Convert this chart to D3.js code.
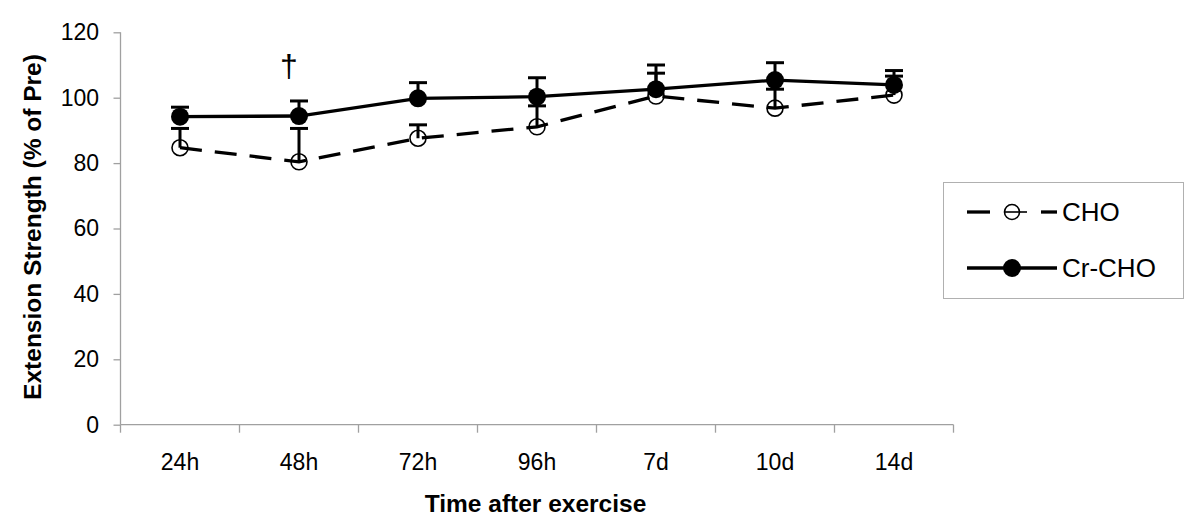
<!DOCTYPE html>
<html><head><meta charset="utf-8">
<script src="https://cdn.jsdelivr.net/npm/d3@7"></script>
<style>body{margin:0;background:#fff}svg{display:block}text{font-family:"Liberation Sans",Arial,sans-serif}</style>
</head><body><svg id="c" width="1200" height="529"></svg>
<script>
const categories = ["24h","48h","72h","96h","7d","10d","14d"];
const choValues  = [84.7, 80.4, 87.6, 91.1, 100.5, 96.8, 100.8];
const choErr     = [5.9, 10.2, 4.1, 6.4, 7.0, 5.8, 5.8];
const crValues   = [94.2, 94.4, 99.8, 100.3, 102.6, 105.4, 103.9];
const crErr      = [2.9, 4.6, 4.8, 5.8, 7.4, 5.3, 4.4];
const yTicks     = [0,20,40,60,80,100,120];
const seriesNames = ["CHO","Cr-CHO"];

const svg = d3.select("#c");
const x = d3.scaleBand().domain(categories).range([120.5, 953.5]);
const y = d3.scaleLinear().domain([0,120]).range([424.7, 32.3]);
const cx = d => x(d) + x.bandwidth()/2;

// axes
const gy = svg.append("g").attr("transform","translate(120.5,0)")
  .call(d3.axisLeft(y).tickValues(yTicks).tickSize(7).tickPadding(14.5));
gy.selectAll("path,line").attr("stroke","#a0a0a0").attr("stroke-width",1.3);
gy.selectAll("text").attr("font-size",23).attr("fill","#000");
gy.select(".domain").attr("d","M0,32.3V424.7");

const gx = svg.append("g").attr("transform","translate(0,424.7)")
  .call(d3.axisBottom(x).tickSize(0).tickPadding(29));
gx.selectAll("path").attr("stroke","#a0a0a0").attr("stroke-width",1.3);
gx.selectAll("text").attr("font-size",23).attr("fill","#000");
gx.select(".domain").attr("d","M120.5,0H953.5");
// band boundary ticks
const bounds = categories.map(c => x(c)).concat([x(categories[categories.length-1]) + x.bandwidth()]);
svg.append("g").selectAll("line").data(bounds).join("line")
  .attr("x1",d=>d).attr("x2",d=>d).attr("y1",424.7).attr("y2",432.7)
  .attr("stroke","#a0a0a0").attr("stroke-width",1.3);

// titles
svg.append("text").attr("x",535.5).attr("y",512).attr("text-anchor","middle")
  .attr("font-size",24.5).attr("font-weight","bold").text("Time after exercise");
svg.append("text").attr("transform","translate(41,227) rotate(-90)").attr("text-anchor","middle")
  .attr("font-size",24.5).attr("font-weight","bold").text("Extension Strength (% of Pre)");

// error bars
function errBars(vals, errs) {
  const g = svg.append("g").attr("stroke","#000").attr("stroke-width",3);
  categories.forEach((c,i) => {
    g.append("line").attr("x1",cx(c)).attr("x2",cx(c)).attr("y1",y(vals[i])).attr("y2",y(vals[i]+errs[i]));
    g.append("line").attr("x1",cx(c)-9).attr("x2",cx(c)+9).attr("y1",y(vals[i]+errs[i])).attr("y2",y(vals[i]+errs[i]));
  });
}
errBars(choValues, choErr);
errBars(crValues, crErr);

const line = d3.line().x((d,i)=>cx(categories[i])).y(d=>y(d));
svg.append("path").datum(choValues).attr("d",line).attr("fill","none")
  .attr("stroke","#000").attr("stroke-width",3.3).attr("stroke-dasharray","22,13");
svg.append("path").datum(crValues).attr("d",line).attr("fill","none")
  .attr("stroke","#000").attr("stroke-width",3.3);

svg.append("g").selectAll("circle").data(choValues).join("circle")
  .attr("cx",(d,i)=>cx(categories[i])).attr("cy",d=>y(d)).attr("r",8)
  .attr("fill","none").attr("stroke","#000").attr("stroke-width",1.6);
svg.append("g").selectAll("circle").data(crValues).join("circle")
  .attr("cx",(d,i)=>cx(categories[i])).attr("cy",d=>y(d)).attr("r",9)
  .attr("fill","#000");

// dagger
svg.append("text").attr("x",cx("48h")-10).attr("y",77).attr("text-anchor","middle")
  .attr("font-size",32).attr("font-family","Liberation Serif, serif").text("\u2020");

// legend
const lg = svg.append("g");
lg.append("rect").attr("x",943.5).attr("y",182.5).attr("width",240).attr("height",116)
  .attr("fill","#fff").attr("stroke","#b0b0b0").attr("stroke-width",1);
const ly = [212, 268];
lg.append("line").attr("x1",967).attr("x2",990).attr("y1",ly[0]).attr("y2",ly[0]).attr("stroke","#000").attr("stroke-width",3.3);
lg.append("line").attr("x1",1005).attr("x2",1027).attr("y1",ly[0]).attr("y2",ly[0]).attr("stroke","#000").attr("stroke-width",1.6);
lg.append("line").attr("x1",1041).attr("x2",1057).attr("y1",ly[0]).attr("y2",ly[0]).attr("stroke","#000").attr("stroke-width",3.3);
lg.append("circle").attr("cx",1012).attr("cy",ly[0]).attr("r",7.5).attr("fill","none").attr("stroke","#000").attr("stroke-width",1.6);
lg.append("line").attr("x1",967).attr("x2",1057).attr("y1",ly[1]).attr("y2",ly[1]).attr("stroke","#000").attr("stroke-width",3.3);
lg.append("circle").attr("cx",1012).attr("cy",ly[1]).attr("r",9).attr("fill","#000");
lg.selectAll("text.l").data(seriesNames).join("text").attr("class","l")
  .attr("x",1062).attr("y",(d,i)=>ly[i]+9).attr("font-size",26).text(d=>d);
</script></body></html>
